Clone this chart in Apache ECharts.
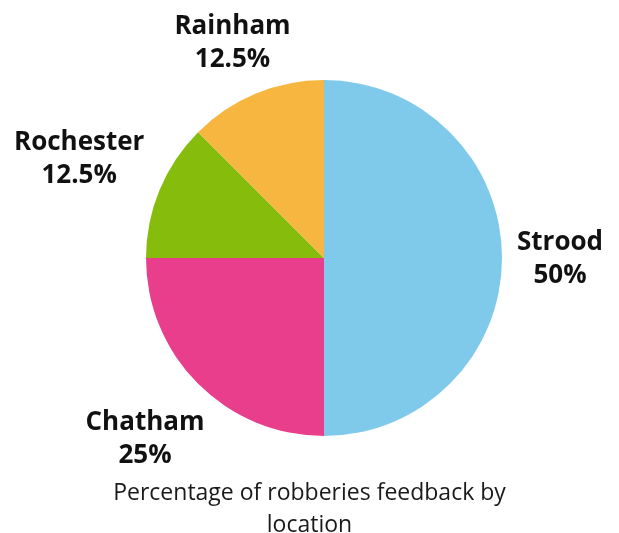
<!DOCTYPE html>
<html>
<head>
<meta charset="utf-8">
<script src="https://cdn.jsdelivr.net/npm/echarts@6/dist/echarts.min.js"></script>
<style>
  html, body { margin: 0; padding: 0; background: #fff; }
  #chart { width: 619px; height: 533px; }
</style>
</head>
<body>
<div id="chart"></div>
<script>
// data
const locations = ['Strood', 'Chatham', 'Rochester', 'Rainham']
const shares = [50, 25, 12.5, 12.5]
const sliceColors = ['#7FC9EB', '#E83E8C', '#86BD0C', '#F6B640']
const chartTitle = 'Percentage of robberies feedback by\nlocation'

// small nudges so the outside labels sit where the original put them
const labelOffsets = [[-3, 1], [-10, 12], [-24, -7], [0, 6]]

const chart = echarts.init(document.getElementById('chart'))

chart.setOption({
  backgroundColor: '#fff',
  animation: false,
  title: {
    text: chartTitle,
    left: 'center',
    top: 472,
    textStyle: {
      fontFamily: 'Open Sans, sans-serif',
      fontWeight: 'normal',
      fontSize: 23,
      lineHeight: 32,
      color: '#1a1a1a'
    }
  },
  series: [
    {
      type: 'pie',
      center: [324, 258],
      radius: 178,
      startAngle: 90,
      clockwise: true,
      silent: true,
      label: { show: false },
      labelLine: { show: false },
      data: locations.map((name, i) => ({
        name,
        value: shares[i],
        itemStyle: { color: sliceColors[i] }
      }))
    },
    {
      // invisible ring, only carries the outside labels
      type: 'pie',
      center: [324, 258],
      radius: [226, 246],
      startAngle: 90,
      clockwise: true,
      silent: true,
      itemStyle: { color: 'rgba(0,0,0,0)' },
      label: {
        show: true,
        position: 'inside',
        formatter: p => p.name + '\n' + p.value + '%',
        fontFamily: 'Open Sans, sans-serif',
        fontWeight: 'bold',
        fontSize: 26,
        lineHeight: 33,
        color: '#111'
      },
      labelLine: { show: false },
      labelLayout: p => ({
        dx: labelOffsets[p.dataIndex][0],
        dy: labelOffsets[p.dataIndex][1]
      }),
      data: locations.map((name, i) => ({ name, value: shares[i] }))
    }
  ]
})
</script>
</body>
</html>
